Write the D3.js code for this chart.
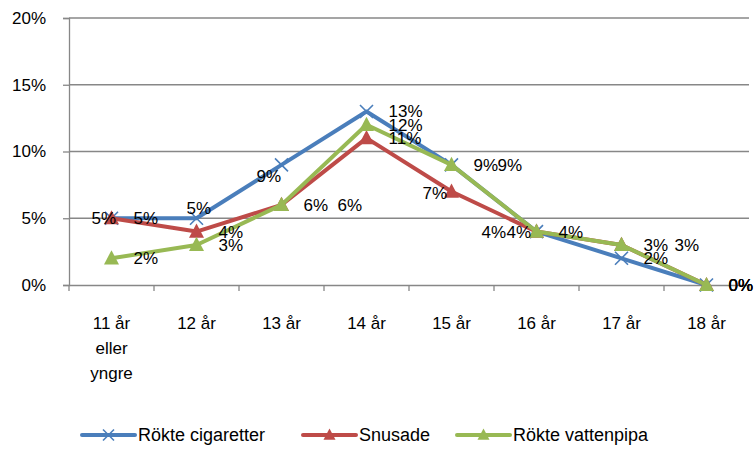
<!DOCTYPE html>
<html>
  <head>
    <meta charset="utf-8">
    <title>Rökning och snus per ålder</title>
    <script src="https://cdn.jsdelivr.net/npm/d3@7"></script>
    <style>
      body { margin: 0; background: #fff; }
      text { font-family: "Liberation Sans", Arial, sans-serif; fill: #000; }
    </style>
  </head>
  <body>
    <svg id="canvas" width="756" height="449"></svg>
    <script>
      // data
      var categories = [["11 år", "eller", "yngre"], ["12 år"], ["13 år"], ["14 år"], ["15 år"], ["16 år"], ["17 år"], ["18 år"]];
      var cigaretter = [5, 5, 9, 13, 9, 4, 2, 0];
      var snusade = [5, 4, 6, 11, 7, 4, 3, 0];
      var vattenpipa = [2, 3, 6, 12, 9, 4, 3, 0];
      var yTicks = [0, 5, 10, 15, 20];

      // data label nudges (dx from default right position, dy)
      var cigDx = [0, -32, -47, 0, 0, -77, 0, 0];
      var cigDy = [0, -10, 11, 0, 0, 0, 0, 0];
      var snusDx = [-42, 0, 0, 0, -51, -52, 0, 0];
      var snusDy = [0, 0, 0, 0, 1, 0, 0, 0];
      var vattDx = [0, 0, 34, 0, 24, 0, 31, 0];
      var vattDy = [0, 0, 0, 0, 0, 0, 0, 0];

      var series = [
        {name: "Rökte cigaretter", values: cigaretter, color: "#4A7EBB", marker: "x", dx: cigDx, dy: cigDy},
        {name: "Snusade", values: snusade, color: "#BE4B48", marker: "tri", dx: snusDx, dy: snusDy},
        {name: "Rökte vattenpipa", values: vattenpipa, color: "#98B954", marker: "tri", dx: vattDx, dy: vattDy}
      ];

      var svg = d3.select("#canvas");
      var plotLeft = 69, plotRight = 749, plotTop = 18, plotBottom = 285;

      var x = d3.scaleBand()
        .domain(d3.range(categories.length))
        .range([plotLeft, plotRight]);

      var y = d3.scaleLinear()
        .domain([0, 20])
        .range([plotBottom, plotTop]);

      // gridlines
      svg.append("g")
        .selectAll("line")
        .data(yTicks.slice(1))
        .enter()
        .append("line")
        .attr("x1", plotLeft).attr("x2", plotRight)
        .attr("y1", function(d){ return y(d); })
        .attr("y2", function(d){ return y(d); })
        .style("stroke", "#878787")
        .style("stroke-width", 1.3);

      // y axis
      var yAxis = svg.append("g")
        .attr("transform", "translate(" + plotLeft + ",0)")
        .call(d3.axisLeft(y).tickValues(yTicks).tickSize(6).tickPadding(17)
          .tickFormat(function(d){ return d + "%"; }));
      yAxis.selectAll("text").style("font-size", "17px");

      // x axis
      var xAxis = svg.append("g")
        .attr("transform", "translate(0," + plotBottom + ")")
        .call(d3.axisBottom(x).tickSize(0).tickFormat(""));
      svg.append("g")
        .selectAll("line")
        .data(d3.range(categories.length + 1))
        .enter()
        .append("line")
        .attr("x1", function(d){ return plotLeft + d * x.step(); })
        .attr("x2", function(d){ return plotLeft + d * x.step(); })
        .attr("y1", plotBottom).attr("y2", plotBottom + 6)
        .style("stroke", "#878787")
        .style("stroke-width", 1.3);
      svg.selectAll(".domain, .tick line")
        .style("stroke", "#878787")
        .style("stroke-width", 1.3);

      // category labels
      var catText = svg.append("g")
        .selectAll("text")
        .data(categories)
        .enter()
        .append("text")
        .attr("x", function(d, i){ return x(i) + x.bandwidth() / 2; })
        .attr("y", 329)
        .style("text-anchor", "middle")
        .style("font-size", "17px");
      catText.selectAll("tspan")
        .data(function(d){ return d; })
        .enter()
        .append("tspan")
        .attr("x", function(){ return this.parentNode.getAttribute("x"); })
        .attr("dy", function(d, i){ return i === 0 ? 0 : 25; })
        .text(function(d){ return d; });

      var cx = function(d, i){ return x(i) + x.bandwidth() / 2; };
      var line = d3.line()
        .x(cx)
        .y(function(d){ return y(d); });

      function drawMarker(g, s, px, py, size) {
        if (s.marker === "x") {
          var r = size / 2;
          g.append("path")
            .attr("d", "M" + (px - r) + "," + (py - r) + "L" + (px + r) + "," + (py + r) +
                       "M" + (px - r) + "," + (py + r) + "L" + (px + r) + "," + (py - r))
            .style("stroke", s.color)
            .style("stroke-width", 1.6)
            .style("fill", "none");
        } else {
          var h = size * 0.9, w = size / 2;
          g.append("path")
            .attr("d", "M" + px + "," + (py - h * 0.6) + "L" + (px + w) + "," + (py + h * 0.45) +
                       "L" + (px - w) + "," + (py + h * 0.45) + "Z")
            .style("fill", s.color);
        }
      }

      series.forEach(function(s){
        var g = svg.append("g");
        g.append("path")
          .datum(s.values)
          .attr("d", line)
          .style("fill", "none")
          .style("stroke", s.color)
          .style("stroke-width", 4)
          .style("stroke-linejoin", "round");
        s.values.forEach(function(v, i){
          drawMarker(g, s, cx(v, i), y(v), s.marker === "x" ? 13 : 15);
        });
      });

      // data labels
      series.forEach(function(s){
        svg.append("g")
          .selectAll("text")
          .data(s.values)
          .enter()
          .append("text")
          .attr("x", function(d, i){ return cx(d, i) + 22 + s.dx[i]; })
          .attr("y", function(d, i){ return y(d) + 6 + s.dy[i]; })
          .style("font-size", "17px")
          .text(function(d){ return d + "%"; });
      });

      // legend
      var legendX = [82, 303, 457];
      var legend = svg.append("g")
        .selectAll("g")
        .data(series)
        .enter()
        .append("g")
        .attr("transform", function(d, i){ return "translate(" + legendX[i] + ",435)"; });
      legend.append("line")
        .attr("x1", 0).attr("x2", 53)
        .attr("y1", 0).attr("y2", 0)
        .style("stroke", function(d){ return d.color; })
        .style("stroke-width", 4)
        .style("stroke-linecap", "round");
      legend.each(function(d){
        drawMarker(d3.select(this), d, 26.5, 0, d.marker === "x" ? 11 : 12);
      });
      legend.append("text")
        .attr("x", 56)
        .attr("y", 6)
        .style("font-size", "18px")
        .text(function(d){ return d.name; });
    </script>
  </body>
</html>
